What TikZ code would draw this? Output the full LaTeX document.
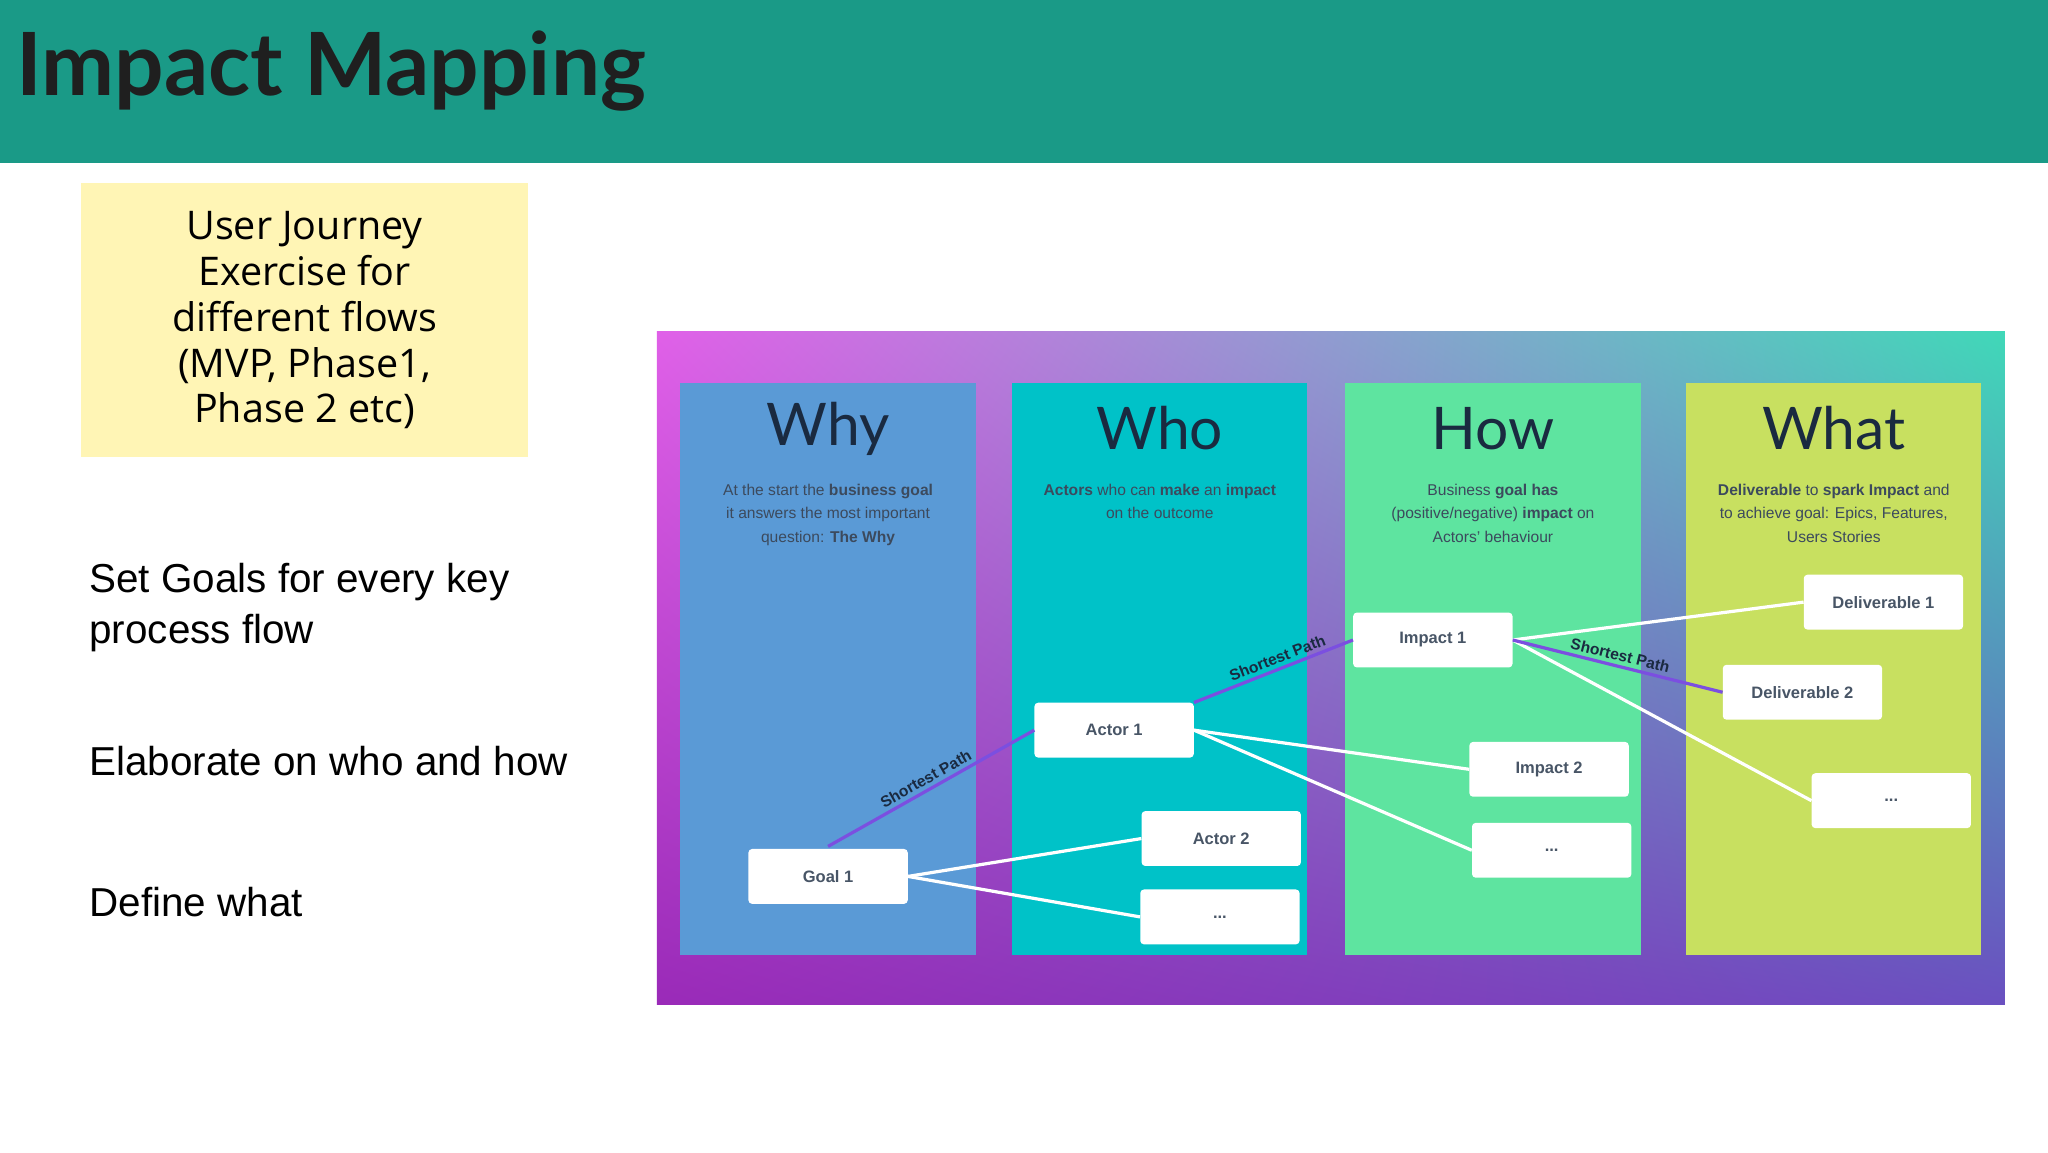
\documentclass[tikz,border=0pt]{standalone}
\usepackage{fontspec}
\setmainfont{Liberation Sans}
\newfontfamily\titlef{Lato}
\newfontfamily\openf{Open Sans}
\newfontfamily\headf{Lato}
\usetikzlibrary{shadings}
\definecolor{band}{HTML}{1A9A87}
\definecolor{note}{HTML}{FFF5B5}
\definecolor{cwhy}{HTML}{5A9AD6}
\definecolor{cwho}{HTML}{00C2C8}
\definecolor{chow}{HTML}{5EE4A0}
\definecolor{cwhat}{HTML}{C8E060}
\definecolor{sp}{HTML}{7B4FE0}
\definecolor{dtext}{HTML}{1A2A40}
\definecolor{bgA}{HTML}{E060E8}
\definecolor{bgC}{HTML}{40D8B8}
\definecolor{bgD}{HTML}{9A2AB8}
\definecolor{bgE}{HTML}{6A50C0}
\newlength{\pxu}\setlength{\pxu}{0.5mm}
\tikzset{
 card/.style={fill=white,rounded corners=4pt,minimum width=122\pxu,minimum height=42\pxu,inner sep=0pt,font=\fontsize{18}{20}\selectfont\bfseries,text=dtext!80},
 conn/.style={white,line width=3.5pt},
 spath/.style={sp,line width=3.5pt},
 splab/.style={font=\fontsize{17}{18}\selectfont\bfseries,text=dtext,sloped,above,inner sep=4pt},
 coltitle/.style={font=\headf\fontsize{64}{66}\selectfont,text=dtext},
 coldesc/.style={font=\fontsize{17}{25.5}\selectfont,text=dtext!85,align=center,anchor=north},
 lefttext/.style={font=\fontsize{44}{55}\selectfont,anchor=north west,align=left,text=black}
}
\begin{document}
\begin{tikzpicture}[x=0.5mm,y=-0.5mm]
\useasboundingbox (0,0) rectangle (1568,882);
\fill[white] (0,0) rectangle (1568,882);
\fill[band] (0,0) rectangle (1568,125);
\node[anchor=west,font=\titlef\bfseries\fontsize{95}{97}\selectfont,text=black!88] (title) at (10,54) {Impact Mapping};
\node[fill=note,minimum width=342\pxu,minimum height=210\pxu,anchor=north west,inner sep=0pt] (notebox) at (62,140) {};
\node[font=\openf\fontsize{43}{50}\selectfont,align=center,text=black] (notetext) at (notebox.center) {User Journey\\Exercise for\\different flows\\(MVP, Phase1,\\Phase 2 etc)};
\node[lefttext] (t1) at (66,429) {Set Goals for every key\\process flow};
\node[lefttext] (t2) at (66,569) {Elaborate on who and how};
\node[lefttext] (t3) at (66,677) {Define what};
% background image
\shade[upper left=bgA,upper right=bgC,lower left=bgD,lower right=bgE] (503,254) rectangle (1535,769);
% columns
\fill[cwhy] (521,293) rectangle (747,731);
\fill[cwho] (775,293) rectangle (1001,731);
\fill[chow] (1030,293) rectangle (1256,731);
\fill[cwhat] (1291,293) rectangle (1517,731);
\node[coltitle] (why) at (634,328) {Why};
\node[coltitle] (who) at (888,328) {Who};
\node[coltitle] (how) at (1143,328) {How};
\node[coltitle] (what) at (1404,328) {What};
\node[coldesc] (dwhy) at (634,368) {At the start the \textbf{business goal}\\it answers the most important\\question: \textbf{The Why}};
\node[coldesc] (dwho) at (888,368) {\textbf{Actors} who can \textbf{make} an \textbf{impact}\\on the outcome};
\node[coldesc] (dhow) at (1143,368) {Business \textbf{goal has}\\(positive/negative) \textbf{impact} on\\Actors' behaviour};
\node[coldesc] (dwhat) at (1404,368) {\textbf{Deliverable} to \textbf{spark Impact} and\\to achieve goal: Epics, Features,\\Users Stories};
% cards
\node[card] (goal) at (634,671) {Goal 1};
\node[card] (a1) at (853,559) {Actor 1};
\node[card] (a2) at (935,642) {Actor 2};
\node[card] (a3) at (934,702) {...};
\node[card] (i1) at (1097,490) {Impact 1};
\node[card] (i2) at (1186,589) {Impact 2};
\node[card] (i3) at (1188,651) {...};
\node[card] (d1) at (1442,461) {Deliverable 1};
\node[card] (d2) at (1380,530) {Deliverable 2};
\node[card] (d3) at (1448,613) {...};
\coordinate (gs) at (634,648);
\draw[conn] (goal.east) -- (a2.west);
\draw[conn] (goal.east) -- (a3.west);
\draw[conn] (a1.east) -- (i2.west);
\draw[conn] (a1.east) -- (i3.west);
\draw[conn] (i1.east) -- (d1.west);
\draw[conn] (i1.east) -- (d3.west);
\draw[spath] (gs) -- node[splab,pos=0.5] {Shortest Path} (a1.west);
\draw[spath] (a1.north east) -- node[splab,pos=0.55] {Shortest Path} (i1.west);
\draw[spath] (i1.east) -- node[splab,pos=0.5] {Shortest Path} (d2.west);
\end{tikzpicture}
\end{document}
